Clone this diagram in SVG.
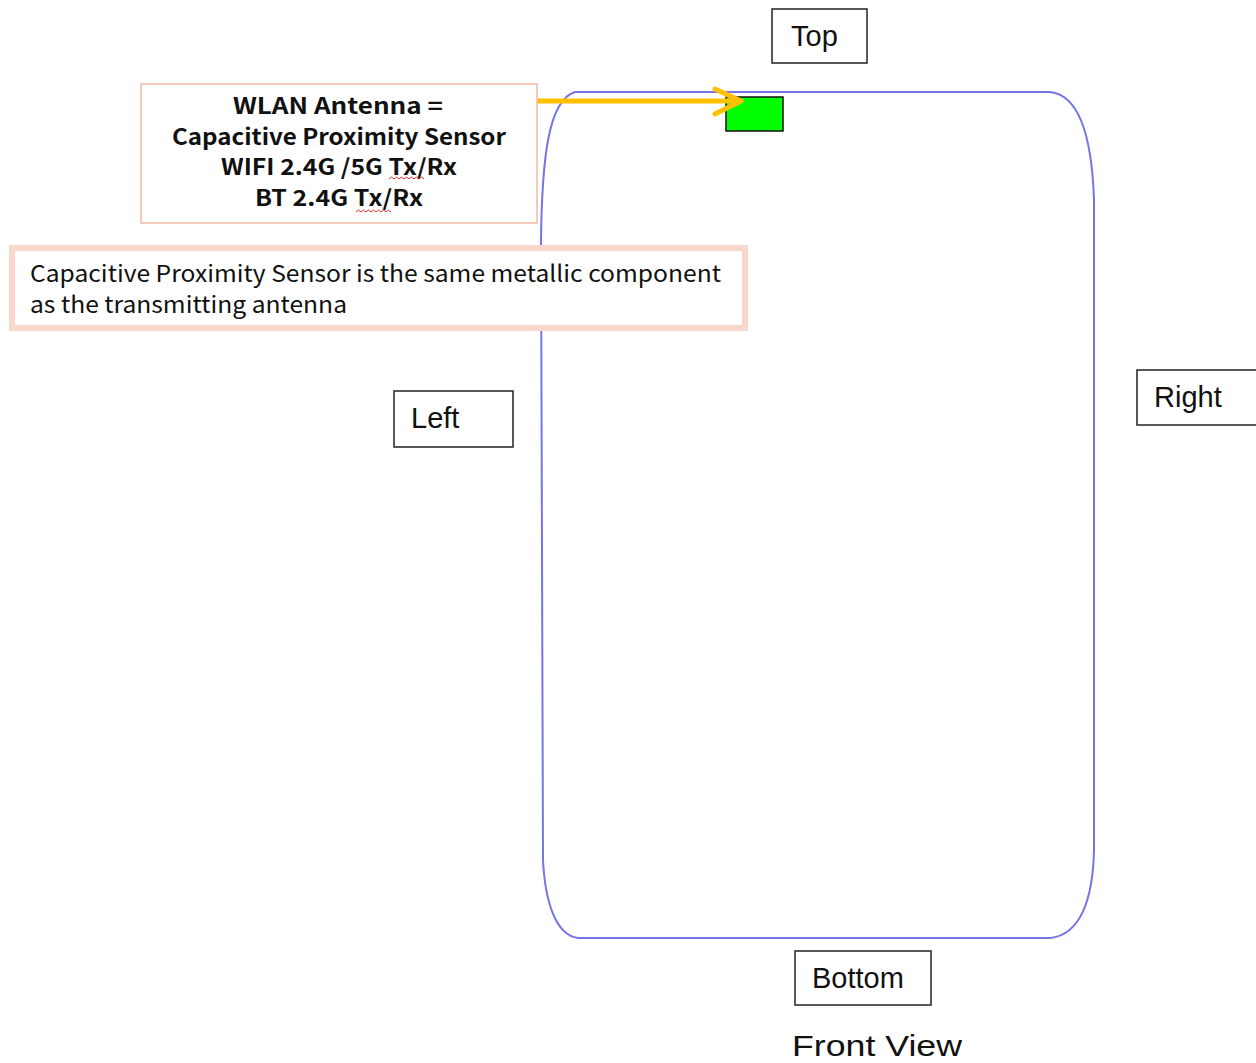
<svg xmlns="http://www.w3.org/2000/svg" width="1256" height="1063" viewBox="0 0 1256 1063">
<style>
.lbl{fill:none;stroke:#222;stroke-width:1.5}
.lt{font-family:"Liberation Sans",Arial,sans-serif;font-size:29px;fill:#111}
.bt{font-family:"Noto Sans CJK KR","Liberation Sans",sans-serif;font-size:22px;font-weight:bold;fill:#111;text-anchor:middle}
.nt{font-family:"Noto Sans CJK KR","Liberation Sans",sans-serif;font-size:23px;fill:#111}
.sq{fill:none;stroke:#e03030;stroke-width:1}
</style>
<rect width="1256" height="1063" fill="#fff"/>
<g id="phone">
<path d="M575,92 L1050,92 C1080,95 1092,140 1094,200 L1094,850 C1093,900 1080,935 1050,938 L578,938 C555,935 545,900 543,860 L541,240 C542,160 548,100 575,92 Z" fill="none" stroke="#7575e6" stroke-width="2"/>
</g>
<g id="sensor">
<rect x="726" y="97" width="57" height="34" fill="#00ff00" stroke="#111" stroke-width="1.5"/>
</g>
<g id="connectors">
<line x1="537" y1="101" x2="740" y2="101" stroke="#ffc000" stroke-width="5"/>
<polyline points="715,89 741,101 715,114" fill="none" stroke="#ffc000" stroke-width="5" stroke-linecap="round" stroke-linejoin="round"/>
</g>
<g id="wlan">
<rect x="141" y="84" width="396" height="139" fill="#fff" stroke="#f4b9a4" stroke-width="1.5"/>
<text class="bt" x="338" y="114" textLength="210" lengthAdjust="spacingAndGlyphs">WLAN Antenna =</text>
<text class="bt" x="339" y="145" textLength="334" lengthAdjust="spacingAndGlyphs">Capacitive Proximity Sensor</text>
<text class="bt" x="339" y="175" textLength="236" lengthAdjust="spacingAndGlyphs">WIFI 2.4G /5G Tx/Rx</text>
<text class="bt" x="339" y="206" textLength="168" lengthAdjust="spacingAndGlyphs">BT 2.4G Tx/Rx</text>
<path class="sq" d="M389,179 l2.5,-2 l2.5,2 l2.5,-2 l2.5,2 l2.5,-2 l2.5,2 l2.5,-2 l2.5,2 l2.5,-2 l2.5,2 l2.5,-2 l2.5,2 l2.5,-2 l2.5,2"/>
<path class="sq" d="M356,212 l2.5,-2 l2.5,2 l2.5,-2 l2.5,2 l2.5,-2 l2.5,2 l2.5,-2 l2.5,2 l2.5,-2 l2.5,2 l2.5,-2 l2.5,2 l2.5,-2 l2.5,2"/>
</g>
<g id="note">
<rect x="12" y="248" width="733" height="80" fill="#fff" stroke="#f8d8cc" stroke-width="6"/>
<text class="nt" x="30" y="282" textLength="691" lengthAdjust="spacingAndGlyphs">Capacitive Proximity Sensor is the same metallic component</text>
<text class="nt" x="30" y="313" textLength="317" lengthAdjust="spacingAndGlyphs">as the transmitting antenna</text>
</g>
<g id="top">
<rect class="lbl" x="772" y="9" width="95" height="54"/>
<text class="lt" x="791" y="46">Top</text>
</g>
<g id="left">
<rect class="lbl" x="394" y="391" width="119" height="56"/>
<text class="lt" x="411" y="428">Left</text>
</g>
<g id="right">
<rect class="lbl" x="1137" y="370" width="122" height="55"/>
<text class="lt" x="1154" y="407">Right</text>
</g>
<g id="bottom">
<rect class="lbl" x="795" y="951" width="136" height="54"/>
<text class="lt" x="812" y="988">Bottom</text>
</g>
<g id="caption">
<text class="lt" x="792" y="1056" textLength="170" lengthAdjust="spacingAndGlyphs">Front View</text>
</g>
</svg>
